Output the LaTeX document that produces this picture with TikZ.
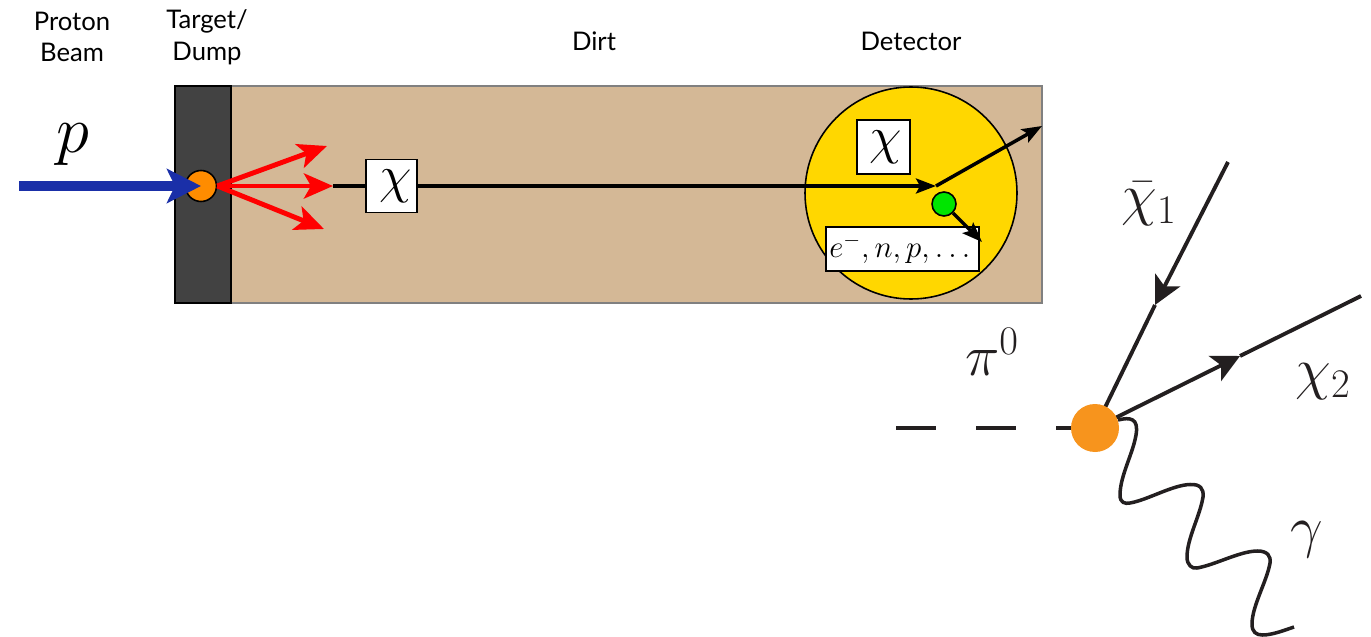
\documentclass[tikz,border=0pt]{standalone}
\usepackage{fix-cm}
\usepackage{amsmath}
\usepackage{fontspec}
\setmainfont{Lato}
\usepackage{tikz}
\usetikzlibrary{arrows.meta, positioning}

\definecolor{dirtcolor}{HTML}{D4B896}
\definecolor{dumpcolor}{HTML}{424242}
\definecolor{detcolor}{HTML}{FFD700}
\definecolor{beamcolor}{HTML}{1A2FA8}
\definecolor{hitcolor}{HTML}{FF8C00}
\definecolor{vertexcolor}{HTML}{F7941D}
\definecolor{inkcolor}{HTML}{231F20}

\tikzset{
    headlabel/.style={align=center, font=\fontsize{14.6}{18}\selectfont},
    chibox/.style={draw=black, line width=1pt, fill=white, inner sep=0pt, minimum width=1.02cm, minimum height=1.06cm, font=\fontsize{30}{30}\selectfont},
    biglabel/.style={inner sep=0pt, text=inkcolor, font=\fontsize{33}{33}\selectfont},
    dot/.style={circle, draw=black, line width=0.9pt, inner sep=0pt},
    redarrow/.style={red, line width=2.8pt, -{Stealth[length=0.58cm, width=0.5cm, inset=0.14cm]}},
    blackarrow/.style={black, line width=2pt, -{Stealth[length=0.4cm, width=0.3cm, inset=0.08cm]}},
    fermion/.style={inkcolor, line width=2.2pt, -{Stealth[length=0.56cm, width=0.56cm, inset=0.14cm]}},
    fermionline/.style={inkcolor, line width=2.2pt}
}

\begin{document}
\begin{tikzpicture}
    \useasboundingbox (0,0) rectangle (27.42,12.72);

    % column titles
    \node[headlabel] (beamtitle) at (1.44,11.98) {Proton\\Beam};
    \node[headlabel] (dumptitle) at (4.14,11.98) {Target/\\Dump};
    \node[headlabel] (dirttitle) at (11.88,11.9) {Dirt};
    \node[headlabel] (dettitle) at (18.22,11.9) {Detector};

    % dirt and dump
    \draw[fill=dirtcolor, draw=gray, line width=1pt] (3.5,6.66) rectangle (20.84,11);
    \draw[fill=dumpcolor, draw=black, line width=1pt] (3.5,6.66) rectangle (4.62,11);

    % detector
    \node[circle, draw=black, line width=0.9pt, fill=detcolor, inner sep=0pt, minimum size=4.24cm] (detector) at (18.22,8.86) {};

    % named points
    \coordinate (redmid) at (6.66,9);
    \coordinate (redup) at (6.54,9.8);
    \coordinate (reddown) at (6.48,8.14);
    \coordinate (beamstart) at (0.38,9);
    \coordinate (scatter) at (18.72,9);
    \coordinate (scatterout) at (20.84,10.2);
    \coordinate (recoilend) at (19.64,7.88);

    % chi line
    \draw[blackarrow] (redmid) -- (scatter);
    \draw[blackarrow] (scatter) -- (scatterout);

    % target hit and beam
    \node[dot, fill=hitcolor, minimum size=0.62cm] (hit) at (4.02,9) {};
    \draw[beamcolor, line width=5.4pt, -{Stealth[length=0.68cm, width=0.68cm, inset=0.16cm]}] (beamstart) -- (hit.center);
    \node[biglabel, text=black, font=\fontsize{38}{38}\selectfont] (plabel) at (1.46,9.82) {$p$};

    % secondaries
    \draw[redarrow] (hit.east) -- (redup);
    \draw[redarrow] (hit.east) -- (redmid);
    \draw[redarrow] (hit.east) -- (reddown);

    % chi boxes
    \node[chibox] (chibeam) at (7.83,9) {\kern5pt$\chi$};
    \node[chibox, minimum width=1.06cm, minimum height=1.08cm] (chidet) at (17.67,9.78) {\kern3pt$\chi$};

    % recoil
    \node[draw=black, line width=1pt, fill=white, inner sep=0pt, minimum width=3.06cm, minimum height=0.88cm, font=\fontsize{17.6}{17.6}\selectfont] (recoilbox) at (18.05,7.74) {$e^-,n,p,\dots$};
    \node[dot, fill=green!90!black, minimum size=0.48cm] (recoil) at (18.88,8.64) {};
    \draw[blackarrow] (recoil) -- (recoilend);

    % decay diagram
    \coordinate (pionstart) at (17.92,4.16);
    \coordinate (vertexpos) at (21.9,4.16);
    \coordinate (chibarend) at (24.56,9.48);
    \coordinate (chibartip) at (23.1,6.62);
    \coordinate (chitwoend) at (27.22,6.8);
    \coordinate (chitwotip) at (24.8,5.6);

    \draw[fermionline, dash pattern=on 0.8cm off 0.8cm] (pionstart) -- (vertexpos);
    \draw[fermion] (chibarend) -- (chibartip);
    \draw[fermionline] (chibartip) -- (vertexpos);
    \draw[fermion] (vertexpos) -- (chitwotip);
    \draw[fermionline] (chitwotip) -- (chitwoend);

    % photon
    \draw[inkcolor, line width=2pt] (22.36,4.32)
        .. controls (22.6,4.38) and (22.78,4.36) .. (22.72,4.02)
        .. controls (22.66,3.65) and (22.4,3.2) .. (22.4,2.82)
        .. controls (22.4,2.66) and (22.5,2.64) .. (22.6,2.66)
        .. controls (22.95,2.72) and (23.45,3.02) .. (23.8,3.03)
        .. controls (24,3.04) and (24.08,2.95) .. (24.06,2.78)
        .. controls (24,2.4) and (23.74,1.95) .. (23.74,1.58)
        .. controls (23.74,1.42) and (23.84,1.34) .. (23.94,1.36)
        .. controls (24.3,1.42) and (24.8,1.7) .. (25.15,1.7)
        .. controls (25.35,1.7) and (25.42,1.6) .. (25.4,1.46)
        .. controls (25.34,1.1) and (25.04,0.6) .. (25.04,0.24)
        .. controls (25.04,0.08) and (25.12,0.02) .. (25.25,0.02)
        .. controls (25.45,0.02) and (25.7,0.12) .. (25.88,0.18);

    \node[circle, fill=vertexcolor, inner sep=0pt, minimum size=0.96cm] (vertex) at (vertexpos) {};

    % particle labels
    \node[biglabel] (chibarlabel) at (22.98,8.64) {$\bar{\chi}_1$};
    \node[biglabel] (pionlabel) at (19.84,5.68) {$\pi^0$};
    \node[biglabel] (chitwolabel) at (26.46,5.08) {$\chi_2$};
    \node[biglabel] (gammalabel) at (26.14,1.92) {$\gamma$};
\end{tikzpicture}
\end{document}
